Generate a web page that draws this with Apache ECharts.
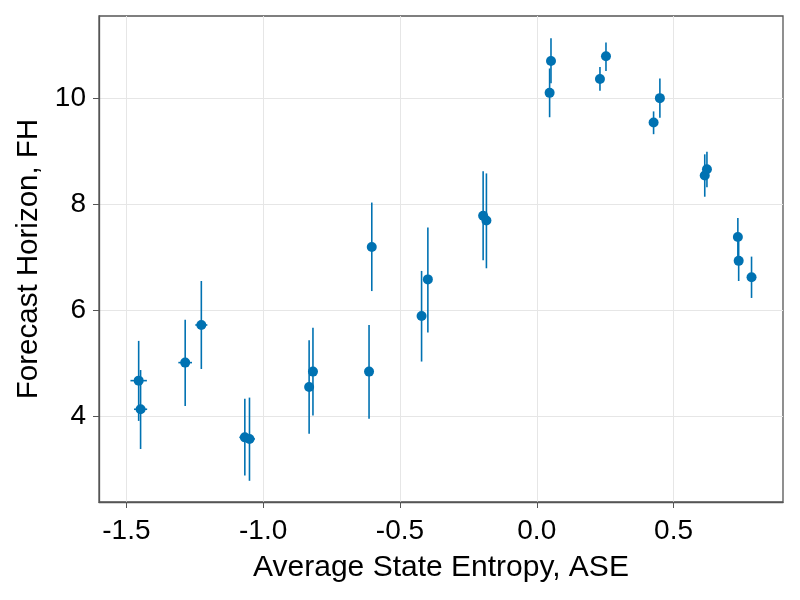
<!DOCTYPE html>
<html>
<head>
<meta charset="utf-8">
<script src="https://cdn.jsdelivr.net/npm/echarts@6/dist/echarts.min.js"></script>
<style>
  html, body { margin: 0; padding: 0; background: #fff; }
  #chart { width: 800px; height: 600px; }
</style>
</head>
<body>
<div id="chart"></div>
<script>
// ASE vs FH
const ase   = [-1.455, -1.448, -1.285, -1.226, -1.067, -1.050, -0.832, -0.818, -0.613, -0.603,
               -0.421, -0.398, -0.196, -0.184, 0.047, 0.052, 0.231, 0.253, 0.427, 0.450,
               0.614, 0.622, 0.735, 0.738, 0.785];
const fh    = [4.67, 4.13, 5.01, 5.72, 3.60, 3.57, 4.55, 4.84, 4.84, 7.19,
               5.89, 6.58, 7.78, 7.69, 10.10, 10.70, 10.36, 10.79, 9.54, 10.00,
               8.54, 8.66, 7.38, 6.93, 6.62];
const fhLow = [3.91, 3.38, 4.19, 4.89, 2.88, 2.78, 3.67, 4.01, 3.95, 6.36,
               5.03, 5.58, 6.94, 6.79, 9.64, 10.28, 10.14, 10.51, 9.32, 9.63,
               8.14, 8.32, 7.02, 6.55, 6.23];
const fhHigh = [5.42, 4.87, 5.82, 6.55, 4.33, 4.35, 5.43, 5.67, 5.72, 8.03,
                6.74, 7.56, 8.62, 8.58, 10.56, 11.13, 10.59, 11.05, 9.75, 10.37,
                8.94, 8.99, 7.74, 7.30, 7.01];
const aseErr = [0.030, 0.024, 0.025, 0.022, 0.020, 0.020, 0.006, 0.012, 0.004, 0.004,
                0.004, 0.004, 0.004, 0.004, 0.004, 0.004, 0.004, 0.004, 0.004, 0.004,
                0.004, 0.004, 0.004, 0.004, 0.004];

const xTicks = [-1.5, -1.0, -0.5, 0.0, 0.5];
const yTicks = [4, 6, 8, 10];

const blue = '#0072b2';
const font = 'Liberation Sans';
const spine = '#555';

const chart = echarts.init(document.getElementById('chart'));

const errData = ase.map((x, i) => [x, fh[i], fhLow[i], fhHigh[i], aseErr[i]]);
const pts = ase.map((x, i) => [x, fh[i]]);

function renderErr(params, api) {
  const x = api.value(0), y = api.value(1);
  const lo = api.coord([x, api.value(2)]);
  const hi = api.coord([x, api.value(3)]);
  const xl = api.coord([x - api.value(4), y]);
  const xr = api.coord([x + api.value(4), y]);
  const st = { stroke: blue, lineWidth: 1.6 };
  return {
    type: 'group',
    children: [
      { type: 'line', shape: { x1: lo[0], y1: lo[1], x2: hi[0], y2: hi[1] }, style: st },
      { type: 'line', shape: { x1: xl[0], y1: xl[1], x2: xr[0], y2: xr[1] }, style: st }
    ]
  };
}

const option = {
  animation: false,
  textStyle: { fontFamily: font },
  grid: {
    left: 99, right: 17, top: 16, bottom: 98,
    show: true, borderColor: spine, borderWidth: 1.3
  },
  xAxis: {
    type: 'value',
    min: -1.6, max: 0.9,
    name: 'Average State Entropy, ASE',
    nameLocation: 'middle',
    nameGap: 51,
    nameTextStyle: { fontSize: 30, color: '#000', fontFamily: font },
    axisLine: { show: true, onZero: false, lineStyle: { color: spine, width: 1.3 } },
    axisTick: { show: true, inside: false, length: 6, lineStyle: { color: spine }, customValues: xTicks },
    axisLabel: {
      fontSize: 28, color: '#000', margin: 15, fontFamily: font,
      customValues: xTicks,
      formatter: v => v.toFixed(1)
    },
    splitLine: { show: true, lineStyle: { color: '#e6e6e6', width: 1 } }
  },
  yAxis: {
    type: 'value',
    min: 2.38, max: 11.55,
    name: 'Forecast Horizon, FH',
    nameLocation: 'middle',
    nameGap: 41,
    nameTextStyle: { fontSize: 29.5, color: '#000', fontFamily: font },
    axisLine: { show: true, onZero: false, lineStyle: { color: spine, width: 1.3 } },
    axisTick: { show: true, inside: false, length: 6, lineStyle: { color: spine }, customValues: yTicks },
    axisLabel: {
      fontSize: 28, color: '#000', margin: 13, fontFamily: font,
      customValues: yTicks
    },
    splitLine: { show: true, lineStyle: { color: '#e6e6e6', width: 1 } }
  },
  series: [
    {
      type: 'custom',
      renderItem: renderErr,
      data: errData,
      encode: { x: 0, y: [1, 2, 3] },
      z: 2
    },
    {
      type: 'scatter',
      data: pts,
      symbol: 'circle',
      symbolSize: 10,
      itemStyle: { color: blue, opacity: 1 },
      z: 3
    }
  ]
};

chart.setOption(option);
</script>
</body>
</html>
